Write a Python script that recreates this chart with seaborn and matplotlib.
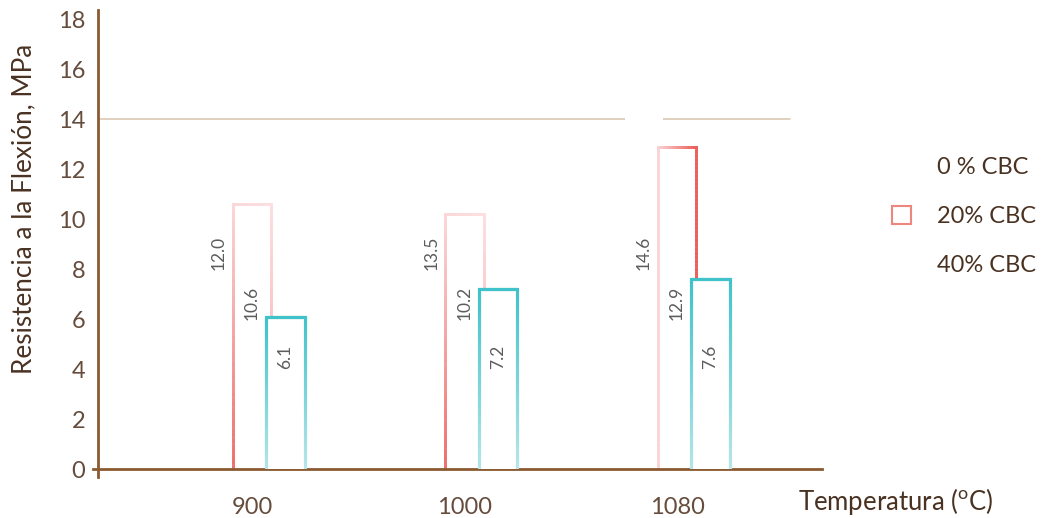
import numpy as np
import pandas as pd
from matplotlib import pyplot as plt
from matplotlib.collections import LineCollection
from matplotlib.patches import Patch
from matplotlib.colors import to_rgb
import seaborn as sns

temperaturas = ['900', '1000', '1080']
series = ['0 % CBC', '20% CBC', '40% CBC']
cbc_0 = [12.0, 13.5, 14.6]
cbc_20 = [10.6, 10.2, 12.9]
cbc_40 = [6.1, 7.2, 7.6]
y_ticks = [0, 2, 4, 6, 8, 10, 12, 14, 16, 18]
grid_value = 14

BROWN = '#8a5a30'
TEXT = '#4a3222'
TICK_TEXT = '#654c3c'
RED = '#ec5f5a'
RED_PALE = '#fdeaec'
CYAN = '#3fc2ca'
CYAN_PALE = '#d3eff0'


def mix(c1, c2, s):
    a = np.array(to_rgb(c1))
    b = np.array(to_rgb(c2))
    return tuple(b + (a - b) * s)


def outline(ax, bar, strength, strong, weak, lw, z):
    # left, top and right edge of a bar, coloured along a gradient
    x0, y0 = bar.get_x(), bar.get_y()
    w, h = bar.get_width(), bar.get_height()
    t = np.linspace(0, 1, 80)
    uv = np.concatenate([
        np.column_stack([np.zeros_like(t), t]),
        np.column_stack([t, np.ones_like(t)]),
        np.column_stack([np.ones_like(t), t[::-1]]),
    ])
    pts = np.column_stack([x0 + uv[:, 0] * w, y0 + uv[:, 1] * h])
    segs = np.stack([pts[:-1], pts[1:]], axis=1)
    mids = (uv[:-1] + uv[1:]) / 2
    cols = [mix(strong, weak, np.clip(strength(u, v), 0, 1)) for u, v in mids]
    lc = LineCollection(segs, colors=cols, linewidths=lw, zorder=z,
                        capstyle='projecting', joinstyle='miter')
    ax.add_collection(lc)


def fade_up(u, v):
    return (1 - 0.85 * v) * (0.9 * (1 - u) + 0.5 * u)


def fade_left(u, v):
    return 0.15 + 0.85 * u


def fade_down(u, v):
    return 0.2 + 0.8 * v


red_modes = [fade_up, fade_up, fade_left]

df = pd.DataFrame({
    'Temperatura': temperaturas * 3,
    'valor': cbc_0 + cbc_20 + cbc_40,
    'serie': [series[0]] * 3 + [series[1]] * 3 + [series[2]] * 3,
})

sns.set_style('white')
plt.rcParams['font.family'] = ['Lato', 'DejaVu Sans']
plt.rcParams['mathtext.fontset'] = 'custom'
plt.rcParams['mathtext.rm'] = 'Lato'

fig = plt.figure(figsize=(10.44, 5.18), dpi=100)
ax = fig.add_axes([98 / 1044, 1 - 469 / 518, 724 / 1044, 459 / 518])

sns.barplot(data=df, x='Temperatura', y='valor', hue='serie',
            hue_order=series, order=temperaturas,
            palette=['white', 'white', 'white'], width=0.47, gap=-0.15,
            legend=False, ax=ax)

label_heights = [8.64, 6.64, 4.48]
for i, cont in enumerate(ax.containers):
    values = [cbc_0, cbc_20, cbc_40][i]
    for j, bar in enumerate(cont):
        bar.set_facecolor('white')
        bar.set_edgecolor('none')
        bar.set_zorder(1 + i)
        if i == 1:
            outline(ax, bar, red_modes[j], RED, RED_PALE, 2.0, 1.5 + i)
        elif i == 2:
            outline(ax, bar, fade_down, CYAN, CYAN_PALE, 2.2, 1.5 + i)
        ax.text(bar.get_x() + bar.get_width() / 2, label_heights[i],
                '{:.1f}'.format(values[j]), rotation=90,
                ha='center', va='center', fontsize=12.5, color='#5c5c5c',
                zorder=5)

ax.axhline(grid_value, xmin=0, xmax=(790 - 98) / 724, color='#d9c3ad',
           linewidth=1.1, zorder=0.5)

ax.set_xlim(-0.725, 2.682)
ax.set_ylim(0, 18.36)
ax.set_yticks(y_ticks)
ax.set_yticklabels([str(v) for v in y_ticks])

for s in ['top', 'right']:
    ax.spines[s].set_visible(False)
for s in ['left', 'bottom']:
    ax.spines[s].set_color(BROWN)
    ax.spines[s].set_linewidth(2)
ax.spines['left'].set_bounds(-0.32, 18.36)
ax.spines['bottom'].set_bounds(-0.75, 2.682)

ax.tick_params(axis='y', length=0, pad=9, labelsize=17, labelcolor=TICK_TEXT)
ax.tick_params(axis='x', direction='inout', length=8, width=2, color=BROWN,
               pad=16, labelsize=17, labelcolor=TICK_TEXT)

ax.set_ylabel('Resistencia a la Flexión, MPa', fontsize=18.8, color=TEXT)
ax.yaxis.set_label_coords(-0.085, 0.566)
ax.set_xlabel('Temperatura ($^{\\mathrm{o}}$C)', fontsize=18.5, color=TEXT)
ax.xaxis.set_label_coords(1.102, -0.036)

handles = [Patch(facecolor='white', edgecolor='white'),
           Patch(facecolor='white', edgecolor='#ee8680', linewidth=1.5),
           Patch(facecolor='white', edgecolor='white')]
leg = ax.legend(handles, series, loc='upper left',
                bbox_to_anchor=(892 / 1044, 1 - 157 / 518),
                bbox_transform=fig.transFigure, frameon=False,
                fontsize=17, handlelength=0.8, handleheight=0.8,
                handletextpad=1.1, labelspacing=1.18, borderpad=0,
                borderaxespad=0)
for t in leg.get_texts():
    t.set_color(TEXT)

fig.savefig('out.png', dpi=100)
